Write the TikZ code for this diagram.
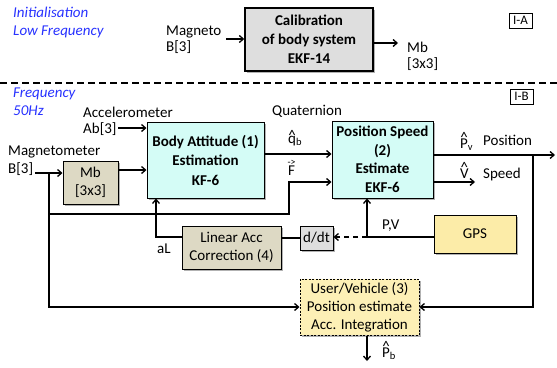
\documentclass[tikz,border=0pt]{standalone}
\usepackage{fontspec}
\setmainfont{Carlito}
\usetikzlibrary{arrows.meta,shadows,calc}
\definecolor{cyanbox}{RGB}{212,252,246}
\definecolor{tanbox}{RGB}{221,217,196}
\definecolor{graybox}{RGB}{222,222,222}
\definecolor{goldbox}{RGB}{252,236,168}
\definecolor{paleyellow}{RGB}{253,240,182}
\definecolor{freqblue}{RGB}{40,50,255}
\newcommand{\stackover}[3]{\setbox0\hbox{#3}\hbox to \wd0{\hss\raisebox{#1}{#2}\hss}\kern-\wd0\box0}
\begin{document}
\begin{tikzpicture}[x=1pt,y=-1pt,
  every node/.style={font=\fontsize{15}{18}\selectfont},
  blk/.style={draw, line width=1pt, align=center, inner sep=0pt,
    drop shadow={shadow xshift=1.5pt, shadow yshift=-1.5pt, opacity=0.3, fill=black}},
  lbl/.style={inner sep=0pt, align=left, anchor=base west},
  freq/.style={lbl, text=freqblue, font=\fontsize{15}{18}\selectfont\itshape},
  tag/.style={draw, line width=0.8pt, inner sep=0pt, minimum width=23pt, minimum height=15pt, font=\fontsize{13}{13}\selectfont},
  arr/.style={-{Straight Barb[length=4pt,width=7pt]}, line width=1.3pt},
  ln/.style={line width=1.3pt},
  sepline/.style={line width=1.6pt, dash pattern=on 7pt off 4pt}
]
\useasboundingbox (0,0) rectangle (557,367);

% ---- section I-A
\node[freq] (initA) at (13,35) {Initialisation\\Low Frequency};
\node[tag] (tagA) at (520.5,20.5) {I-A};
\node[blk, fill=graybox, line width=1.5pt, minimum width=128pt, minimum height=63pt,
  font=\fontsize{15}{19}\selectfont\bfseries] (calib) at (309,39.5) {Calibration\\of body system\\EKF-14};
\node[lbl, font=\fontsize{15}{16}\selectfont] (magneto) at (166,51) {Magneto\\B[3]};
\node[lbl, font=\fontsize{15}{15.5}\selectfont] (mbout) at (407,68) {Mb\\{[3x3]}};
\coordinate (magin) at (226,39);
\draw[arr] (magin) -- (magin -| calib.west);
\coordinate (mbend) at (398,43);
\draw[arr] (mbend -| calib.east) -- (mbend);

% ---- separator
\coordinate (sepL) at (0,83);
\coordinate (sepR) at (557,83);
\draw[sepline] (sepL) -- (sepR);

% ---- section I-B
\node[freq] (freqB) at (13,115) {Frequency\\50Hz};
\node[tag] (tagB) at (521.5,96.5) {I-B};

\node[blk, fill=cyanbox, minimum width=117pt, minimum height=76pt,
  font=\fontsize{15}{19.5}\selectfont\bfseries] (body) at (205.5,160) {Body Attitude (1)\\Estimation\\KF-6};
\node[blk, fill=cyanbox, minimum width=101pt, minimum height=77pt,
  font=\fontsize{15}{18.5}\selectfont\bfseries] (ps) at (382.5,159.5) {Position Speed\\(2)\\Estimate\\EKF-6};
\node[blk, fill=tanbox, minimum width=55pt, minimum height=43pt] (mb) at (90.5,182.5) {Mb\\{[3x3]}};
\node[blk, fill=tanbox, minimum width=99pt, minimum height=43pt] (linacc) at (231.5,247.5) {Linear Acc\\Correction (4)};
\node[blk, fill=graybox, minimum width=33pt, minimum height=24pt] (ddt) at (316.5,238) {d/dt};
\node[blk, fill=goldbox, minimum width=82pt, minimum height=38pt] (gps) at (475,234) {GPS};
\node[blk, fill=paleyellow, dash pattern=on 2pt off 1.5pt, minimum width=119pt, minimum height=56pt] (user) at (359.5,307) {User/Vehicle (3)\\Position estimate\\Acc. Integration};

% labels
\node[lbl, font=\fontsize{15}{16}\selectfont] (accl) at (83,133) {Accelerometer\\Ab[3]};
\node[lbl] (magnl) at (8,173) {Magnetometer\\B[3]};
\node[lbl] (quat) at (272,115) {Quaternion};
\node[lbl] (qhat) at (288,143) {\stackover{3pt}{\textasciicircum}{q}\textsubscript{b}};
\node[lbl] (fvec) at (288,175) {\stackover{10pt}{\fontsize{10}{10}\selectfont -{}>}{F}};
\node[lbl] (pvhat) at (460,148) {\stackover{5.3pt}{\textasciicircum}{P}\textsubscript{v}};
\node[lbl] (posl) at (483,145) {Position};
\node[lbl] (vhat) at (460,178) {\stackover{5.3pt}{\textasciicircum}{V}};
\node[lbl] (spdl) at (483,178) {Speed};
\node[lbl] (pvl) at (382,229) {P,V};
\node[lbl] (all) at (157,253) {aL};
\node[lbl] (pbhat) at (382,357) {\stackover{5.3pt}{\textasciicircum}{P}\textsubscript{b}};

% connectors
\coordinate (accin) at (118,128);
\draw[arr] (accin) -- (accin -| body.west);
\coordinate (bin) at (35,173);
\draw[arr] (bin) -- (bin -| mb.west);
\coordinate (mbo) at (118,170);
\draw[arr] (mbo) -- (mbo -| body.west);
\coordinate (jb) at (49,173);
\draw[arr] (jb) |- (user.west);
\coordinate (jf) at (49,214);
\coordinate (fbend) at (289,214);
\coordinate (fin) at (300,182);
\draw[arr] (jf) -- (fbend) |- (fin -| ps.west);
\coordinate (qy) at (300,154);
\draw[arr] (qy -| body.east) -- (qy -| ps.west);
\coordinate (posend) at (555,155);
\draw[arr] (posend -| ps.east) -- (posend);
\coordinate (spdend) at (475,182);
\draw[arr] (spdend -| ps.east) -- (spdend);
\coordinate (jp) at (533,155);
\draw[arr] (jp) |- (user.east);
\coordinate (al) at (156,237);
\draw[arr] (al -| linacc.west) -- (al) -- (al |- body.south);
\draw[ln] (ddt.west) -- (ddt.west -| linacc.east);
\coordinate (jg) at (367,237);
\draw[ln] (jg -| gps.west) -- (jg);
\draw[arr, dash pattern=on 5pt off 4pt] (jg) -- (jg -| ddt.east);
\draw[arr] (jg) -- (jg |- ps.south);
\coordinate (pbend) at (367,361);
\draw[arr] (pbend |- user.south) -- (pbend);
\end{tikzpicture}
\end{document}
